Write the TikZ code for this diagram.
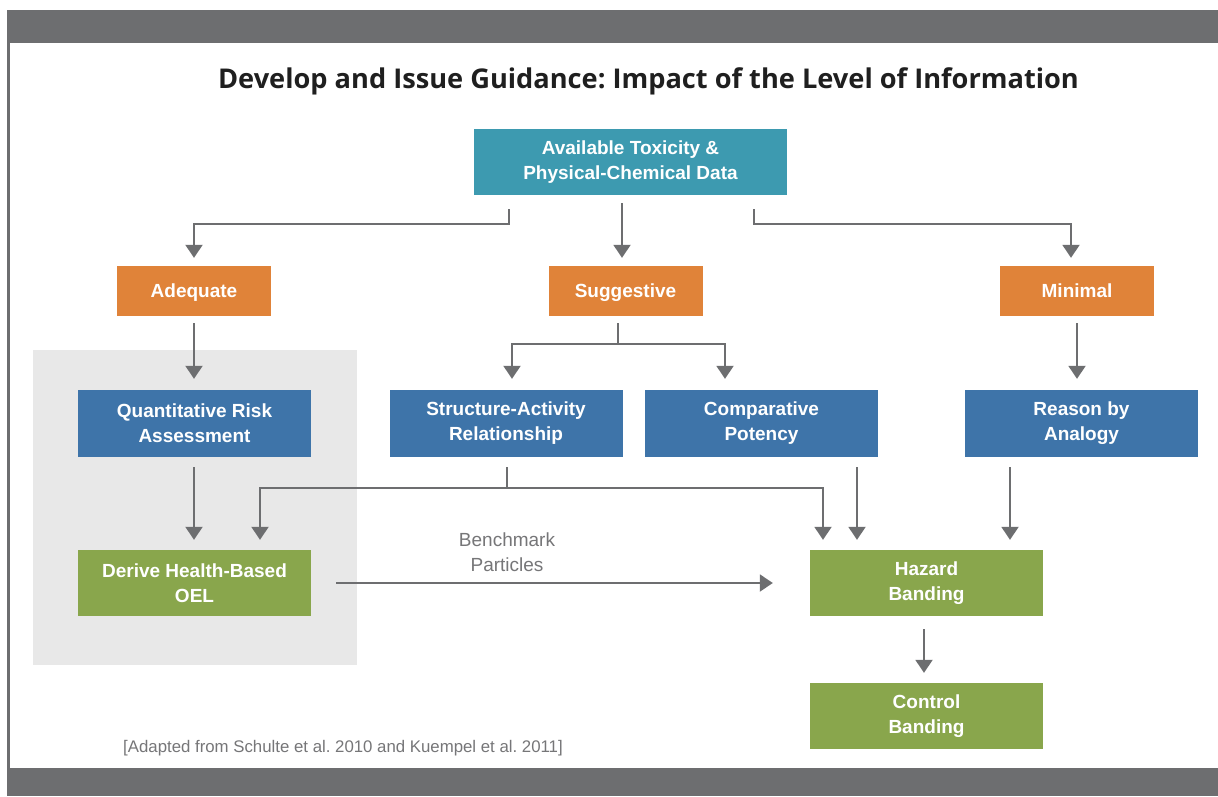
\documentclass[tikz,border=0pt]{standalone}
\usepackage{fontspec}
\setmainfont{Liberation Sans}
\newfontfamily\titlefont{Open Sans}
\usetikzlibrary{arrows.meta,calc}
\definecolor{bargray}{RGB}{109,110,112}
\definecolor{bggray}{RGB}{232,232,232}
\definecolor{linegray}{RGB}{109,110,112}
\definecolor{textgray}{RGB}{118,118,120}
\definecolor{tealc}{RGB}{61,154,176}
\definecolor{orangec}{RGB}{224,131,57}
\definecolor{bluec}{RGB}{62,116,169}
\definecolor{greenc}{RGB}{137,166,76}
\tikzset{
  box/.style={draw=none, inner sep=0pt, text=white, align=center,
    font=\fontsize{19}{25}\selectfont\bfseries},
  topbox/.style={box, fill=tealc, minimum width=313pt, minimum height=66pt},
  levelbox/.style={box, fill=orangec, minimum width=154pt, minimum height=50pt,
    text height=13.5pt, text depth=0pt},
  methodbox/.style={box, fill=bluec, minimum width=233pt, minimum height=67pt},
  resultbox/.style={box, fill=greenc, minimum width=233pt, minimum height=66pt},
  conn/.style={draw=linegray, line width=2pt},
  arr/.style={conn, -{Triangle[width=17pt,length=13pt]}},
}
\begin{document}
\frenchspacing
\begin{tikzpicture}[x=1pt,y=-1pt]
\useasboundingbox (0,0) rectangle (1218,796);
\fill[white] (0,0) rectangle (1218,796);
\fill[bargray] (7,10) rectangle (1218,43);
\fill[bargray] (7,768) rectangle (1218,796);
\draw[bargray, line width=2.5pt] (8.5,43) -- (8.5,768);
\fill[bggray] (33,350) rectangle (357,665);

\node[font=\titlefont\bfseries\fontsize{27.2}{32}\selectfont, text=black!88] (title) at (648.5,81)
  {Develop and Issue Guidance: Impact of the Level of Information};

\node[topbox] (avail) at (630.5,162) {Available Toxicity \&\\Physical-Chemical Data};

\node[levelbox] (adeq) at (194,291) {Adequate};
\node[levelbox] (sugg) at (625.5,291) {Suggestive};
\node[levelbox] (mini) at (1077,291) {Minimal};

\node[methodbox] (qra) at (194.5,423.5) {Quantitative Risk\\Assessment};
\node[methodbox] (sar) at (506,423.5) {Structure-Activity\\Relationship};
\node[methodbox] (cp) at (761.5,423.5) {Comparative\\Potency};
\node[methodbox] (ra) at (1081.5,423.5) {Reason by\\Analogy};

\node[resultbox] (derive) at (194.5,583) {Derive Health-Based\\OEL};
\node[resultbox] (hazard) at (926.5,583) {Hazard\\Banding};
\node[resultbox] (control) at (926.5,716) {Control\\Banding};

% top level
\draw[arr] ($(avail.south)+(-121.5,14)$) -- ++(0,15) -| ($(adeq.north)+(0,-8)$);
\draw[arr] ($(avail.south)+(-8.5,8)$) -- ($(sugg.north)+(-3.5,-8)$);
\draw[arr] ($(avail.south)+(123.5,14)$) -- ++(0,15) -| ($(mini.north)+(-6,-8)$);

% level to methods
\draw[arr] ($(adeq.south)+(0,7)$) -- ($(adeq.south |- qra.north)+(0,-11)$);
\draw[conn] ($(sugg.south)+(-8,7)$) -- ++(0,21) coordinate (sj);
\draw[arr] (sj) -| ($(sar.north)+(6,-11)$);
\draw[arr] (sj) -| ($(cp.north)+(-36.5,-11)$);
\draw[arr] ($(mini.south)+(0,7)$) -- ($(mini.south |- ra.north)+(0,-11)$);

% methods to results
\draw[arr] ($(qra.south)+(-0.5,10)$) -- ($(derive.north)+(-0.5,-10)$);
\draw[conn] ($(sar.south)+(1,10)$) -- ++(0,21) coordinate (sj2);
\draw[arr] (sj2) -| ($(derive.north)+(65.5,-10)$);
\draw[arr] (sj2) -| ($(hazard.north)+(-103.5,-10)$);
\draw[arr] ($(cp.south)+(95.5,10)$) -- ($(hazard.north)+(-69.5,-10)$);
\draw[arr] ($(ra.south)+(-71.5,10)$) -- ($(hazard.north)+(83.5,-10)$);

% benchmark
\draw[arr] ($(derive.east)+(25,0)$) -- ($(hazard.west)+(-37,0)$);
\node[text=textgray, align=center, font=\fontsize{19}{25}\selectfont] (bench) at (507,552)
  {Benchmark\\Particles};

\draw[arr] ($(hazard.south)+(-2.5,13)$) -- ($(control.north)+(-2.5,-10)$);

\node[anchor=base west, text=textgray, font=\fontsize{16.8}{18}\selectfont, inner sep=0pt] (note) at (123,752)
  {[Adapted from Schulte et al. 2010 and Kuempel et al. 2011]};
\end{tikzpicture}
\end{document}
